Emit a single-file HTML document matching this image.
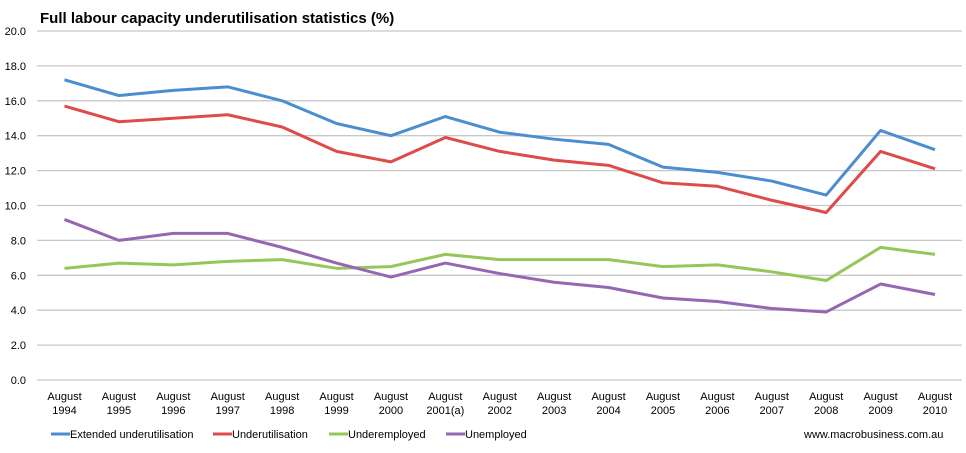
<!DOCTYPE html>
<html><head><meta charset="utf-8"><style>
body{margin:0;background:#fff;font-family:"Liberation Sans",sans-serif;}
</style></head><body>
<svg id="chart" width="966" height="448" xmlns="http://www.w3.org/2000/svg" font-family="Liberation Sans, sans-serif">
<text x="40" y="23" font-size="15" font-weight="bold" fill="#000">Full labour capacity underutilisation statistics (%)</text>
<g id="grid"></g><g id="ylab"></g><g id="xlab"></g><g id="lines"></g>
<g id="legend"></g>
<text x="804" y="438" font-size="11" fill="#000">www.macrobusiness.com.au</text>
</svg>
<script>
const categories=["August|1994","August|1995","August|1996","August|1997","August|1998","August|1999","August|2000","August|2001(a)","August|2002","August|2003","August|2004","August|2005","August|2006","August|2007","August|2008","August|2009","August|2010"];
const extended=[17.2,16.3,16.6,16.8,16.0,14.7,14.0,15.1,14.2,13.8,13.5,12.2,11.9,11.4,10.6,14.3,13.2];
const underutil=[15.7,14.8,15.0,15.2,14.5,13.1,12.5,13.9,13.1,12.6,12.3,11.3,11.1,10.3,9.6,13.1,12.1];
const underemployed=[6.4,6.7,6.6,6.8,6.9,6.4,6.5,7.2,6.9,6.9,6.9,6.5,6.6,6.2,5.7,7.6,7.2];
const unemployed=[9.2,8.0,8.4,8.4,7.6,6.7,5.9,6.7,6.1,5.6,5.3,4.7,4.5,4.1,3.9,5.5,4.9];
const yTicks=[0,2,4,6,8,10,12,14,16,18,20];
const seriesNames=["Extended underutilisation","Underutilisation","Underemployed","Unemployed"];
const NS="http://www.w3.org/2000/svg";
const y=v=>380-v*(349/20);
const x=i=>64.5+i*(870.5/(categories.length-1));
function mk(t,a,p){const e=document.createElementNS(NS,t);for(const k in a)e.setAttribute(k,a[k]);p.appendChild(e);return e;}
const grid=document.getElementById('grid'),yl=document.getElementById('ylab'),xl=document.getElementById('xlab'),lg=document.getElementById('lines'),leg=document.getElementById('legend');
yTicks.forEach(t=>{
 const l=mk('line',{x1:37,x2:962,y1:y(t),y2:y(t),stroke:'#c8c8c8','stroke-width':1.3},grid);
 
 
 const tx=mk('text',{x:26,y:y(t)+4,'font-size':11,'text-anchor':'end',fill:'#000'},yl);
 tx.textContent=t.toFixed(1);
 
 
});
categories.forEach((c,i)=>{
 const [a,b]=c.split('|');
 const t1=mk('text',{x:x(i),y:400,'font-size':11,'text-anchor':'middle',fill:'#000'},xl);t1.textContent=a;
 
 
 const t2=mk('text',{x:x(i),y:414,'font-size':11,'text-anchor':'middle',fill:'#000'},xl);t2.textContent=b;
 
 
});
const colors=["#4a8ecf","#dd4b4b","#96c658","#9566b1"];
[extended,underutil,underemployed,unemployed].forEach((s,k)=>{
 const p=mk('polyline',{points:s.map((v,i)=>x(i)+','+y(v)).join(' '),fill:'none',stroke:colors[k],'stroke-width':3,'stroke-linejoin':'round'},lg);
 
 
});
const lx=[51,213,376,446+0];
const legX=[51,213,329,446];
seriesNames.forEach((n,k)=>{
 const g=mk('g',{},leg);
 
 
 mk('line',{x1:legX[k],x2:legX[k]+19,y1:434,y2:434,stroke:colors[k],'stroke-width':3},g);
 const t=mk('text',{x:legX[k]+19,y:438,'font-size':11,fill:'#000'},g);t.textContent=n;
});
</script>
</body></html>
